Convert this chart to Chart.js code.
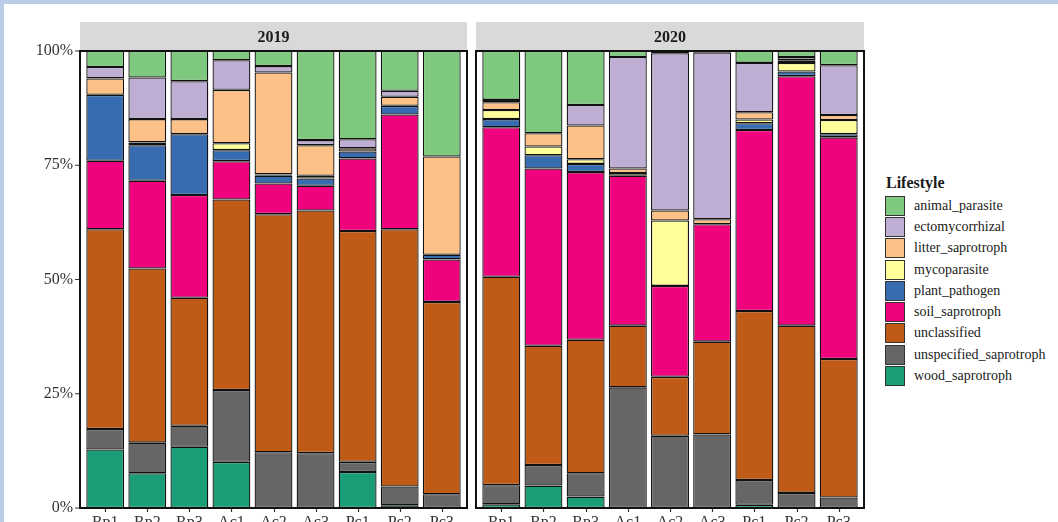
<!DOCTYPE html>
<html>
<head>
<meta charset="utf-8">
<script src="https://cdn.jsdelivr.net/npm/chart.js@4.4.1/dist/chart.umd.min.js"></script>
<style>
  html, body { margin: 0; padding: 0; background: #fff; overflow: hidden; }
  #page { position: relative; width: 1058px; height: 522px; overflow: hidden; background: #fff; }
  #page canvas { position: absolute; top: 0; }
  #c2019 { left: 0; }
  #c2020 { left: 470px; }
  #frame { position: absolute; left: 0; top: 0; width: 1058px; height: 522px; box-sizing: border-box;
           border-top: 4px solid #bacde6; border-left: 4px solid #bacde6; pointer-events: none; }
  #legend { position: absolute; left: 885px; top: 173px; font-family: "Liberation Serif", "Times New Roman", serif; color: #1a1a1a; }
  #legend .title { font-weight: bold; font-size: 16px; height: 22px; line-height: 20px; margin-left: 1px; }
  #legend .row { display: flex; align-items: center; height: 21.3px; }
  #legend .key { width: 18px; height: 18px; border: 1px solid #333; margin-right: 9px; }
  #legend .lab { font-size: 14px; }
</style>
</head>
<body>
<div id="page">
  <canvas id="c2019" width="470" height="560"></canvas>
  <canvas id="c2020" width="400" height="560"></canvas>
  <div id="legend"></div>
  <div id="frame"></div>
</div>
<script>
// samples on the x axis, one facet per year
const samples = ['Rp1', 'Rp2', 'Rp3', 'Ac1', 'Ac2', 'Ac3', 'Pc1', 'Pc2', 'Pc3'];
const years = ['2019', '2020'];

// stacking order, bottom to top
const lifestyles = ['wood_saprotroph', 'unspecified_saprotroph', 'unclassified', 'soil_saprotroph',
  'plant_pathogen', 'mycoparasite', 'litter_saprotroph', 'ectomycorrhizal', 'animal_parasite'];
const colours = ['#1b9e77', '#666666', '#bf5b17', '#f0027f', '#386cb0', '#ffff99', '#fdc086', '#beaed4', '#7fc97f'];

// relative abundance (%) per sample
const wood_2019       = [12.8, 7.6, 13.4, 10.1, 0, 0, 7.9, 0.6, 0];
const unspecified_2019 = [4.5, 6.7, 4.6, 15.7, 12.2, 12.0, 2.2, 4.1, 3.0];
const unclassified_2019 = [43.7, 38.1, 28.0, 41.7, 52.1, 53.1, 50.5, 56.3, 42.1];
const soil_2019       = [15.0, 19.2, 22.5, 8.4, 6.7, 5.4, 15.9, 25.1, 9.3];
const plant_2019      = [14.4, 7.8, 13.3, 2.4, 1.7, 1.6, 1.5, 1.9, 1.0];
const myco_2019       = [0, 0.6, 0, 1.5, 0.3, 0.6, 0, 0, 0];
const litter_2019     = [3.6, 5.1, 3.3, 11.7, 22.3, 6.7, 0.7, 2.0, 21.5];
const ecto_2019       = [2.5, 9.1, 8.3, 6.5, 1.4, 1.1, 2.0, 1.3, 0];
const animal_2019     = [3.5, 5.8, 6.6, 2.0, 3.3, 19.5, 19.3, 8.7, 23.1];

const wood_2020       = [0.8, 4.9, 2.5, 0, 0, 0, 0.7, 0, 0];
const unspecified_2020 = [4.2, 4.5, 5.1, 26.4, 15.8, 16.1, 5.4, 3.3, 2.3];
const unclassified_2020 = [45.6, 26.1, 29.2, 13.5, 12.9, 20.3, 37.0, 36.6, 30.3];
const soil_2020       = [32.7, 38.8, 36.7, 32.8, 19.9, 25.7, 39.6, 54.6, 48.5];
const plant_2020      = [1.8, 2.9, 1.8, 0, 0, 0, 1.5, 1.0, 0.7];
const myco_2020       = [2.0, 1.9, 1.0, 0.6, 14.3, 0, 0.8, 1.9, 3.1];
const litter_2020     = [1.7, 2.9, 7.4, 1.0, 2.2, 1.1, 1.6, 0.6, 1.1];
const ecto_2020       = [0.5, 0, 4.5, 24.4, 34.4, 36.5, 10.8, 0.7, 10.9];
const animal_2020     = [10.7, 18.0, 11.8, 1.3, 0.5, 0.3, 2.6, 1.3, 3.1];

const series = {
  '2019': [wood_2019, unspecified_2019, unclassified_2019, soil_2019, plant_2019, myco_2019, litter_2019, ecto_2019, animal_2019],
  '2020': [wood_2020, unspecified_2020, unclassified_2020, soil_2020, plant_2020, myco_2020, litter_2020, ecto_2020, animal_2020]
};

const SERIF = '"Liberation Serif", "Times New Roman", serif';
const PANEL_TOP = 51, PANEL_BOTTOM = 508, STRIP_TOP = 22;

// grey facet strip, black panel border and outside tick marks (ggplot-like)
const facetPanel = {
  id: 'facetPanel',
  beforeDatasetsDraw(chart, args, opts) {
    const { ctx, chartArea: a } = chart;
    const ex = (a.right - a.left) / samples.length * 0.1;
    const left = a.left - ex, w = a.right - a.left + 2 * ex;
    ctx.save();
    ctx.fillStyle = '#d9d9d9';
    ctx.fillRect(left, STRIP_TOP, w, a.top - STRIP_TOP);
    ctx.fillStyle = '#1a1a1a';
    ctx.font = 'bold 16px ' + SERIF;
    ctx.textAlign = 'center';
    ctx.textBaseline = 'middle';
    ctx.fillText(opts.label, left + w / 2, (STRIP_TOP + a.top) / 2 + 1);
    ctx.restore();
  },
  afterDatasetsDraw(chart, args, opts) {
    const { ctx, chartArea: a, scales } = chart;
    const ex = (a.right - a.left) / samples.length * 0.1;
    const left = a.left - ex, w = a.right - a.left + 2 * ex;
    ctx.save();
    ctx.strokeStyle = '#333';
    ctx.lineWidth = 1.2;
    ctx.beginPath();
    scales.x.ticks.forEach((t, i) => {
      const x = Math.round(scales.x.getPixelForTick(i)) + 0.5;
      ctx.moveTo(x, a.bottom); ctx.lineTo(x, a.bottom + 4);
    });
    if (opts.yTicks) {
      scales.y.ticks.forEach((t, i) => {
        const y = scales.y.getPixelForTick(i);
        ctx.moveTo(left - 5, y); ctx.lineTo(left, y);
      });
    }
    ctx.stroke();
    ctx.strokeStyle = '#111';
    ctx.lineWidth = 2;
    ctx.strokeRect(left, a.top, w, a.bottom - a.top);
    ctx.restore();
  }
};

function makeFacet(id, year, withYAxis, padLeft, padRight) {
  const canvas = document.getElementById(id);
  const datasets = lifestyles.map((name, k) => ({
    label: name,
    data: series[year][k],
    backgroundColor: colours[k],
    borderColor: '#111',
    borderWidth: 1.3,
    borderSkipped: false,
    barPercentage: 0.9,
    categoryPercentage: 1
  }));
  return new Chart(canvas, {
    type: 'bar',
    data: { labels: samples, datasets },
    plugins: [facetPanel],
    options: {
      responsive: false, animation: false,
      layout: { padding: { top: PANEL_TOP, left: padLeft, right: padRight, bottom: 0 } },
      plugins: {
        legend: { display: false },
        tooltip: { enabled: false },
        facetPanel: { label: year, yTicks: withYAxis }
      },
      scales: {
        x: {
          stacked: true,
          grid: { display: false, drawTicks: false },
          border: { display: false },
          ticks: { color: '#333', font: { family: SERIF, size: 16 }, padding: 5, maxRotation: 0, autoSkip: false },
          afterFit: s => { s.height = canvas.height - PANEL_BOTTOM; }
        },
        y: {
          display: withYAxis,
          stacked: true, min: 0, max: 100,
          grid: { display: false, drawTicks: false },
          border: { display: false },
          ticks: { stepSize: 25, color: '#333', font: { family: SERIF, size: 16 }, padding: 11,
                   callback: v => v + '%' },
          afterFit: s => { s.width = withYAxis ? 84.2 : 0; }
        }
      }
    }
  });
}

makeFacet('c2019', '2019', true, 0, 7.2);
makeFacet('c2020', '2020', false, 10.2, 10.2);

// legend, top entry = top of the stack
const legend = document.getElementById('legend');
legend.innerHTML = '<div class="title">Lifestyle</div>';
for (let k = lifestyles.length - 1; k >= 0; k--) {
  const row = document.createElement('div');
  row.className = 'row';
  row.innerHTML = '<div class="key" style="background:' + colours[k] + '"></div><div class="lab">' + lifestyles[k] + '</div>';
  legend.appendChild(row);
}
</script>
</body>
</html>
